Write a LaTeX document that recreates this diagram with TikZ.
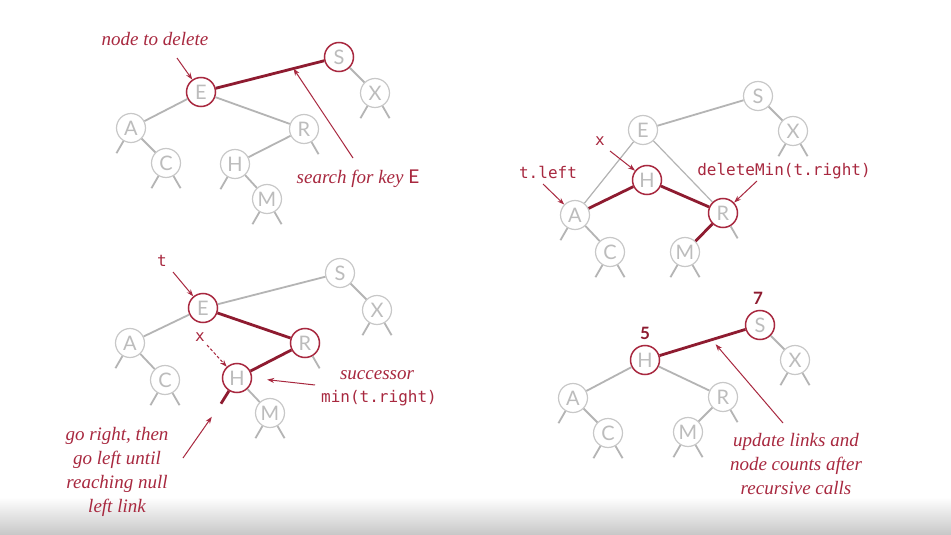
\documentclass[tikz,border=0pt]{standalone}
\usepackage{fontspec}
\setmainfont{Liberation Serif}
\newfontfamily\keyfont{Lato}
\newfontfamily\codefont{DejaVu Sans Mono}
\usetikzlibrary{calc,arrows.meta}
\definecolor{crimson}{HTML}{A8283F}
\definecolor{darkred}{HTML}{8E1B30}
\definecolor{ghost}{HTML}{C8C8C8}
\definecolor{ghosttext}{HTML}{BCBCBC}
\definecolor{edgegray}{HTML}{B4B4B4}

\tikzset{
    key/.style={circle, draw=ghost, line width=1.2pt, fill=white,
        minimum size=29pt, inner sep=0pt, text=ghosttext,
        font=\keyfont\fontsize{20}{20}\selectfont},
    hot/.style={key, draw=crimson, line width=1.5pt},
    link/.style={draw=edgegray, line width=1.8pt},
    thinlink/.style={draw=edgegray, line width=1.2pt},
    redlink/.style={draw=darkred, line width=2.8pt},
    pointer/.style={draw=crimson, line width=1pt, -{Stealth[length=7pt,width=5pt]}},
    note/.style={text=crimson, align=center,
        font=\itshape\fontsize{19}{24}\selectfont},
    code/.style={text=crimson, font=\codefont\fontsize{16}{19}\selectfont},
    count/.style={text=darkred, font=\keyfont\bfseries\fontsize{17}{17}\selectfont}
}

\begin{document}
\begin{tikzpicture}[x=1pt, y=1pt]
    \useasboundingbox (0,0) rectangle (951,-535);
    \fill[white] (0,0) rectangle (951,-535);
    \shade[top color=white, bottom color=black!22] (0,-497) rectangle (951,-535);

    % Panel 1: search for the key
    \node[hot] (E1) at (201,-92) {E};
    \node[hot] (S1) at (339,-57) {S};
    \node[key] (X1) at (375,-93) {X};
    \node[key] (A1) at (131,-128) {A};
    \node[key] (R1) at (304,-129) {R};
    \node[key] (C1) at (166,-163) {C};
    \node[key] (H1) at (235,-164) {H};
    \node[key] (M1) at (267,-199) {M};
    \draw[redlink] (E1) -- (S1);
    \draw[link] (S1) -- (X1);
    \draw[link] (E1) -- (A1);
    \draw[link] (E1) -- (R1);
    \draw[link] (A1) -- (C1);
    \draw[link] (R1) -- (H1);
    \draw[link] (H1) -- (M1);
    \node[note] (lblDelete) at (155,-39) {node to delete};
    \node[note] (lblSearch) at (358,-179) {search for key {\upshape\keyfont E}};
    \coordinate (pDel) at (177,-58);
    \coordinate (pSearch) at (353,-158);
    \coordinate (mSearch) at ($(E1)!0.67!(S1)$);
    \draw[pointer] (pDel) -- (E1);
    \draw[pointer] (pSearch) -- (mSearch);

    % Panel 2: replace with the successor
    \node[key] (S2) at (758,-96) {S};
    \node[key] (E2) at (643,-130) {E};
    \node[key] (X2) at (793,-131) {X};
    \node[hot] (H2) at (647,-180) {H};
    \node[key] (A2) at (575,-215) {A};
    \node[hot] (R2) at (723,-213) {R};
    \node[key] (C2) at (610,-252) {C};
    \node[key] (M2) at (685,-252) {M};
    \draw[link] (S2) -- (E2);
    \draw[link] (S2) -- (X2);
    \draw[thinlink] (E2) -- (A2);
    \draw[thinlink] (E2) -- (R2);
    \draw[link] (A2) -- (C2);
    \draw[redlink] (H2) -- (A2);
    \draw[redlink] (H2) -- (R2);
    \draw[redlink] (R2) -- (M2);
    \node[code] (lblX2) at (600,-141) {x};
    \node[code] (lblLeft) at (548,-172) {t.left};
    \node[code] (lblMin) at (784,-171) {deleteMin(t.right)};
    \coordinate (pX2) at (610,-151);
    \coordinate (pLeft) at (543,-184);
    \coordinate (pMin) at (757,-181);
    \draw[pointer] (pX2) -- (H2);
    \draw[pointer] (pLeft) -- (A2);
    \draw[pointer] (pMin) -- (R2);

    % Panel 3: find the successor
    \node[hot] (E3) at (203,-308) {E};
    \node[key] (S3) at (340,-273) {S};
    \node[key] (X3) at (377,-310) {X};
    \node[key] (A3) at (130,-343) {A};
    \node[hot] (R3) at (305,-343) {R};
    \node[key] (C3) at (165,-380) {C};
    \node[hot] (H3) at (237,-378) {H};
    \node[key] (M3) at (270,-413) {M};
    \draw[link] (E3) -- (S3);
    \draw[link] (S3) -- (X3);
    \draw[link] (E3) -- (A3);
    \draw[link] (A3) -- (C3);
    \draw[link] (H3) -- (M3);
    \draw[redlink] (E3) -- (R3);
    \draw[redlink] (R3) -- (H3);
    \draw[redlink] (H3.238) -- ++(238:15) coordinate (nullEnd);
    \node[code] (lblT) at (162,-261) {t};
    \node[code] (lblX3) at (200,-337) {x};
    \node[note] (lblSucc) at (377,-375) {successor};
    \node[code] (lblMinR) at (379,-398) {min(t.right)};
    \node[note] (lblGo) at (117,-472) {go right, then\\go left until\\reaching null\\left link};
    \coordinate (pT) at (173,-272);
    \coordinate (pX3) at (207,-345);
    \coordinate (pSucc) at (315,-385);
    \coordinate (pGo) at (183,-458);
    \draw[pointer] (pT) -- (E3);
    \draw[pointer, densely dashed] (pX3) -- (H3);
    \draw[pointer, shorten >=15pt] (pSucc) -- (H3.east);
    \draw[pointer, shorten >=16pt] (pGo) -- (nullEnd);

    % Panel 4: update links and counts
    \node[hot] (S4) at (760,-325) {S};
    \node[hot] (H4) at (645,-360) {H};
    \node[key] (X4) at (795,-360) {X};
    \node[key] (A4) at (573,-398) {A};
    \node[key] (R4) at (723,-397) {R};
    \node[key] (C4) at (608,-433) {C};
    \node[key] (M4) at (688,-432) {M};
    \draw[redlink] (H4) -- (S4);
    \draw[link] (S4) -- (X4);
    \draw[link] (H4) -- (A4);
    \draw[link] (H4) -- (R4);
    \draw[link] (R4) -- (M4);
    \draw[link] (A4) -- (C4);
    \node[count] (cnt7) at (758,-298) {7};
    \node[count] (cnt5) at (645,-333) {5};
    \node[note] (lblUpdate) at (796,-464) {update links and\\node counts after\\recursive calls};
    \coordinate (pUpd) at (783,-423);
    \coordinate (mUpd) at ($(H4)!0.58!(S4)$);
    \draw[pointer, shorten >=6pt] (pUpd) -- (mUpd);

    % null links
    \foreach \n/\a in {A1/240, C1/240, C1/300, H1/240, R1/300, M1/240, M1/300, X1/240, X1/300,
                       A2/240, C2/240, C2/300, M2/240, M2/300, R2/300, X2/240, X2/300,
                       A3/240, C3/240, C3/300, M3/240, M3/300, R3/300, X3/240, X3/300,
                       A4/240, C4/240, C4/300, M4/240, M4/300, R4/300, X4/240, X4/300}
        \draw[link] (\n.\a) -- ++(\a:14);
\end{tikzpicture}
\end{document}
